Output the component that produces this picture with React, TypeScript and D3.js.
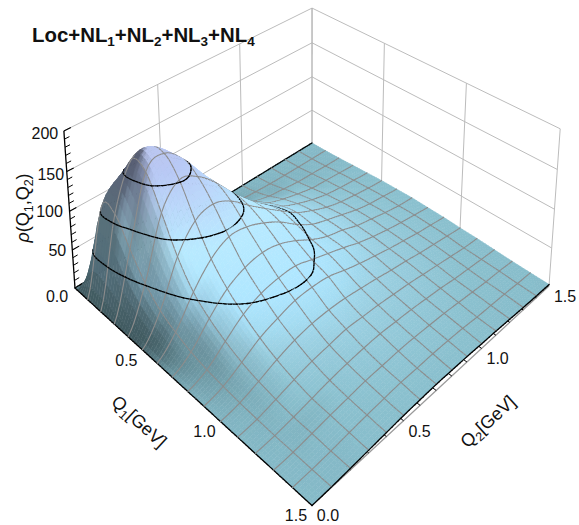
import { useEffect, useRef } from "react";
import * as d3 from "d3";

const WIDTH = 579;
const HEIGHT = 525;

// rho(Q1, Q2), one row per Q1 value, columns are Q2 = 0.0 .. 1.5
const q2Values = [0, 0.1, 0.2, 0.3, 0.4, 0.5, 0.6, 0.7, 0.8, 0.9, 1.0, 1.1, 1.2, 1.3, 1.4, 1.5];
const rhoQ1_00 = [0, 0, 0, 0, 0, 0, 0, 0, 0, 0, 0, 0, 0, 0, 0, 0];
const rhoQ1_01 = [0, 106, 110, 80, 50, 31, 20, 13, 8, 6, 4, 2.5, 1.7, 1.2, 0.8, 0.6];
const rhoQ1_02 = [0, 110, 165, 162, 125, 85, 56, 36, 24, 17, 11, 8, 5, 4, 2.5, 1.8];
const rhoQ1_03 = [0, 80, 162, 172, 152, 115, 82, 58, 40, 28, 20, 14, 9, 7, 5, 3.3];
const rhoQ1_04 = [0, 52, 125, 152, 143, 122, 95, 71, 52, 37, 27, 19, 13, 9.5, 7, 4.8];
const rhoQ1_05 = [0, 33, 85, 115, 122, 112, 93, 75, 58, 42, 31, 22, 16, 12, 8.7, 6.3];
const rhoQ1_06 = [0, 22, 56, 82, 95, 93, 84, 71, 54, 40, 32, 25, 18, 13, 10, 7];
const rhoQ1_07 = [0, 14, 39, 60, 71, 75, 71, 61, 48, 38, 32, 24, 19, 14, 10, 7.7];
const rhoQ1_08 = [0, 9, 27, 44, 54, 58, 58, 51, 44, 37, 29, 23, 18, 14, 10.5, 7.3];
const rhoQ1_09 = [0, 6, 18, 31, 39, 45, 46, 44, 37, 31, 26, 21, 17, 13, 10, 7];
const rhoQ1_10 = [0, 4, 12, 21, 28, 32, 33, 32, 29, 26, 22, 19, 15, 12, 9, 6];
const rhoQ1_11 = [0, 2.5, 8, 14, 19, 22, 25, 24, 23, 21, 19, 16, 13, 10, 7, 5.4];
const rhoQ1_12 = [0, 1.7, 5, 9, 13, 16, 18, 19, 18, 17, 15, 13, 10, 8, 6, 4.3];
const rhoQ1_13 = [0, 1.2, 4, 7, 9.5, 12, 13, 14, 14, 13, 12, 10, 8, 6, 5, 3.2];
const rhoQ1_14 = [0, 0.8, 2.5, 5, 7, 8.7, 10, 10, 10.5, 10, 9, 7, 6, 5, 3.5, 2.5];
const rhoQ1_15 = [0, 0.6, 1.8, 3.3, 4.8, 6.3, 7, 7.7, 7.3, 7, 6, 5.4, 4.3, 3.2, 2.5, 2];
const rhoRows = [
  rhoQ1_00, rhoQ1_01, rhoQ1_02, rhoQ1_03, rhoQ1_04, rhoQ1_05, rhoQ1_06, rhoQ1_07,
  rhoQ1_08, rhoQ1_09, rhoQ1_10, rhoQ1_11, rhoQ1_12, rhoQ1_13, rhoQ1_14, rhoQ1_15,
];

const contourLevels = [50, 100, 150];
const zMajorTicks = [50, 100, 150, 200];
const zMinorTicks = [10, 20, 30, 40, 60, 70, 80, 90, 110, 120, 130, 140, 160, 170, 180, 190];
const zTickLabels = [
  { z: 200, text: "200", dx: -19, dy: 8 },
  { z: 150, text: "150", dx: -16, dy: 8 },
  { z: 100, text: "100", dx: -20, dy: 6 },
  { z: 50, text: "50", dx: -15, dy: 6 },
  { z: 0, text: "0.0", dx: -18, dy: 14 },
];
const wallTicks = [0.5, 1.0];
const q1TickLabels = [0.5, 1.0, 1.5];
const q2TickLabels = [0.0, 0.5, 1.0, 1.5];

const uScale = d3.scaleLinear().domain([0, 1.5]).range([0, 1]);
const vScale = d3.scaleLinear().domain([0, 1.5]).range([0, 1]);
const wScale = d3.scaleLinear().domain([0, 200]).range([0, 1]);

// colour of the surface by height
const heightColor = d3
  .scaleLinear<string>()
  .domain([0, 8, 25, 35, 50, 90, 130, 160, 185])
  .range(["#86bbc9", "#8ac0ce", "#9bd0e2", "#a4dcf2", "#aee6ff", "#b8eaff", "#bcd8fb", "#b9c9f5", "#bcc6ee"])
  .interpolate(d3.interpolateRgb);

// perspective camera fitted on the corners of the box
const project = (q1: number, q2: number, z: number): [number, number] => {
  const u = uScale(q1);
  const v = vScale(q2);
  const w = wScale(z);
  const d = -0.2055 * u + 0.2055 * v - 0.045 * w + 1;
  return [
    (172.88 * u + 301.12 * v - 14 * w + 75) / d,
    (113.61 * u - 115.61 * v - 163 * w + 288) / d,
  ];
};

const SUB = 6;
const NODES = q2Values.length;
const STEPS = (NODES - 1) * SUB;
const BOX_Z = 0.7;

const catmull = (a: number, b: number, c: number, d: number, t: number) =>
  0.5 * (2 * b + (c - a) * t + (2 * a - 5 * b + 4 * c - d) * t * t + (3 * b - a - 3 * c + d) * t * t * t);

const node = (i: number, j: number) =>
  rhoRows[Math.max(0, Math.min(NODES - 1, i))][Math.max(0, Math.min(NODES - 1, j))];

// smooth surface between the table's nodes
const rhoAt = (fi: number, fj: number) => {
  const i = Math.min(NODES - 2, Math.floor(fi));
  const j = Math.min(NODES - 2, Math.floor(fj));
  const row = [-1, 0, 1, 2].map((di) =>
    catmull(node(i + di, j - 1), node(i + di, j), node(i + di, j + 1), node(i + di, j + 2), fj - j)
  );
  return Math.max(0, catmull(row[0], row[1], row[2], row[3], fi - i));
};

const shade = (z: number, nU: number, nV: number) => {
  const len = Math.hypot(nU, nV, 1);
  const vx = Math.min(0, (nU + nV) / len / Math.SQRT2);
  const f = Math.max(0.48, 1 + 0.35 * vx - 1.2 * vx * vx);
  const c = d3.rgb(heightColor(z));
  return d3.rgb(c.r * f, c.g * f, c.b * f).formatHex();
};

export default function App() {
  const ref = useRef<SVGGElement>(null);

  useEffect(() => {
    const root = d3.select(ref.current);
    root.selectAll("*").remove();
    const line = d3.line();

    const seg = (g: any, pts: [number, number][], color: string, width: number) =>
      g.append("path").attr("d", line(pts)).attr("fill", "none").attr("stroke", color).attr("stroke-width", width);

    // back walls
    const wall = root.append("g");
    const GRAY = "#bcbcbc";
    zMajorTicks.forEach((z) => {
      seg(wall, [project(0, 0, z), project(0, 1.5, z)], GRAY, 1);
      seg(wall, [project(0, 1.5, z), project(1.5, 1.5, z)], GRAY, 1);
    });
    wallTicks.forEach((t) => {
      seg(wall, [project(0, t, 0), project(0, t, 200)], GRAY, 1);
      seg(wall, [project(t, 1.5, 0), project(t, 1.5, 200)], GRAY, 1);
    });
    seg(wall, [project(0, 1.5, 0), project(0, 1.5, 200)], "#b4b4b4", 1.4);
    seg(wall, [project(1.5, 1.5, 0), project(1.5, 1.5, 200)], GRAY, 1);

    // z axis with its ticks
    seg(wall, [project(0, 0, 0), project(0, 0, 200)], "#000", 1.3);
    zMajorTicks.forEach((z) => seg(wall, [project(0, 0, z), project(0, 0.035, z)], "#000", 1.1));
    zMinorTicks.forEach((z) => seg(wall, [project(0, 0, z), project(0, 0.025, z)], "#000", 1));

    // Q2 axis runs under the surface's front edge
    seg(wall, [project(1.5, 0, 0), project(1.5, 1.5, 0)], "#9a9a9a", 1.3);
    d3.range(1, 15).forEach((k) => {
      const t = k * 0.1;
      seg(wall, [project(1.5, t, 0), project(1.5 - 0.035, t, 0)], "#000", 1);
    });

    // fine heights
    const heights: number[][] = d3.range(STEPS + 1).map((i) =>
      d3.range(STEPS + 1).map((j) => rhoAt(i / SUB, j / SUB))
    );
    const qOf = (k: number) => (k / STEPS) * 1.5;
    const pt = (i: number, j: number) => project(qOf(i), qOf(j), heights[i][j]);

    const extras: Array<Array<Array<{ pts: [number, number][]; color: string; width: number }>>> =
      d3.range(STEPS).map(() => d3.range(STEPS).map(() => []));
    const MESH = "#8c8c8c";

    for (let k = 0; k <= STEPS; k += SUB) {
      for (let s = 0; s < STEPS; s++) {
        // line of constant Q1
        const cellI = Math.min(k, STEPS - 1);
        const blackQ1 = k === 0 || k === STEPS;
        extras[cellI][s].push({ pts: [pt(k, s), pt(k, s + 1)], color: blackQ1 ? "#000" : MESH, width: blackQ1 ? 1.3 : 1.1 });
        // line of constant Q2
        if (k === STEPS) continue;
        const cellJ = Math.max(0, k - 1);
        const black = k === 0;
        extras[s][cellJ].push({ pts: [pt(s, k), pt(s + 1, k)], color: black ? "#000" : MESH, width: black ? 1.3 : 1.1 });
      }
    }

    // contour lines on the surface
    const flat: number[] = [];
    for (let j = 0; j <= STEPS; j++) for (let i = 0; i <= STEPS; i++) flat.push(heights[i][j]);
    const contours = d3.contours().size([STEPS + 1, STEPS + 1]).thresholds(contourLevels)(flat);
    contours.forEach((c) => {
      c.coordinates.forEach((poly) =>
        poly.forEach((ring) => {
          for (let k = 0; k + 1 < ring.length; k++) {
            const a = [ring[k][0] - 0.5, ring[k][1] - 0.5];
            const b = [ring[k + 1][0] - 0.5, ring[k + 1][1] - 0.5];
            const ci = Math.max(0, Math.min(STEPS - 1, Math.ceil(Math.max(a[0], b[0])) - 1));
            const cj = Math.max(0, Math.min(STEPS - 1, Math.floor(Math.min(a[1], b[1])) - 1));
            extras[ci][cj].push({
              pts: [project(qOf(a[0]), qOf(a[1]), c.value), project(qOf(b[0]), qOf(b[1]), c.value)],
              color: "#000",
              width: 1.3,
            });
          }
        })
      );
    });

    // surface, back to front
    const surface = root.append("g").attr("stroke-linecap", "round");
    for (let i = 0; i < STEPS; i++) {
      for (let j = STEPS - 1; j >= 0; j--) {
        const dU = ((heights[i + 1][j] + heights[i + 1][j + 1] - heights[i][j] - heights[i][j + 1]) / 2) * (STEPS / 200) * BOX_Z;
        const dV = ((heights[i][j + 1] + heights[i + 1][j + 1] - heights[i][j] - heights[i + 1][j]) / 2) * (STEPS / 200) * BOX_Z;
        const mean = (heights[i][j] + heights[i + 1][j] + heights[i][j + 1] + heights[i + 1][j + 1]) / 4;
        const color = shade(mean, -dU, -dV);
        surface
          .append("path")
          .attr("d", line([pt(i, j), pt(i + 1, j), pt(i + 1, j + 1), pt(i, j + 1)]) + "Z")
          .attr("fill", color)
          .attr("stroke", color)
          .attr("stroke-width", 0.6);
        extras[i][j].forEach((e) => seg(surface, e.pts, e.color, e.width));
      }
    }

    // tick labels
    const labels = root.append("g").attr("font-family", "Liberation Sans, Arial, sans-serif").attr("font-size", 16).attr("text-anchor", "middle").attr("fill", "#111");
    const label = (p: [number, number], dx: number, dy: number, text: string) =>
      labels.append("text").attr("x", p[0] + dx).attr("y", p[1] + dy).text(text);
    zTickLabels.forEach((d) => label(project(0, 0, d.z), d.dx, d.dy, d.text));
    q1TickLabels.forEach((t) => label(project(t, 0, 0), -16, 16, t.toFixed(1)));
    q2TickLabels.forEach((t) => label(project(1.5, t, 0), 16, 16, t.toFixed(1)));
  }, []);

  return (
    <svg width={WIDTH} height={HEIGHT} style={{ position: "absolute", left: 0, top: 0 }}>
      <rect width={WIDTH} height={HEIGHT} fill="#fff" />
      <g ref={ref} />
      <g fontFamily="Liberation Sans, Arial, sans-serif" fill="#111">
        <text x={32} y={42} fontSize={20.4} fontWeight="bold">
          Loc+NL<tspan fontSize={13.5} dy={4}>1</tspan>
          <tspan dy={-4}>+NL</tspan><tspan fontSize={13.5} dy={4}>2</tspan>
          <tspan dy={-4}>+NL</tspan><tspan fontSize={13.5} dy={4}>3</tspan>
          <tspan dy={-4}>+NL</tspan><tspan fontSize={13.5} dy={4}>4</tspan>
        </text>
        <text transform="translate(29,208) rotate(-90)" textAnchor="middle" fontSize={18}>
          <tspan fontStyle="italic">ρ</tspan>(Q<tspan fontSize={12.5} dy={4}>1</tspan>
          <tspan dy={-4}>,Q</tspan><tspan fontSize={12.5} dy={4}>2</tspan><tspan dy={-4}>)</tspan>
        </text>
        <text transform="translate(135,426) rotate(42.5)" textAnchor="middle" fontSize={18}>
          Q<tspan fontSize={12.5} dy={4}>1</tspan><tspan dy={-4}>[GeV]</tspan>
        </text>
        <text transform="translate(492,426) rotate(-42.5)" textAnchor="middle" fontSize={18}>
          Q<tspan fontSize={12.5} dy={4}>2</tspan><tspan dy={-4}>[GeV]</tspan>
        </text>
      </g>
    </svg>
  );
}
